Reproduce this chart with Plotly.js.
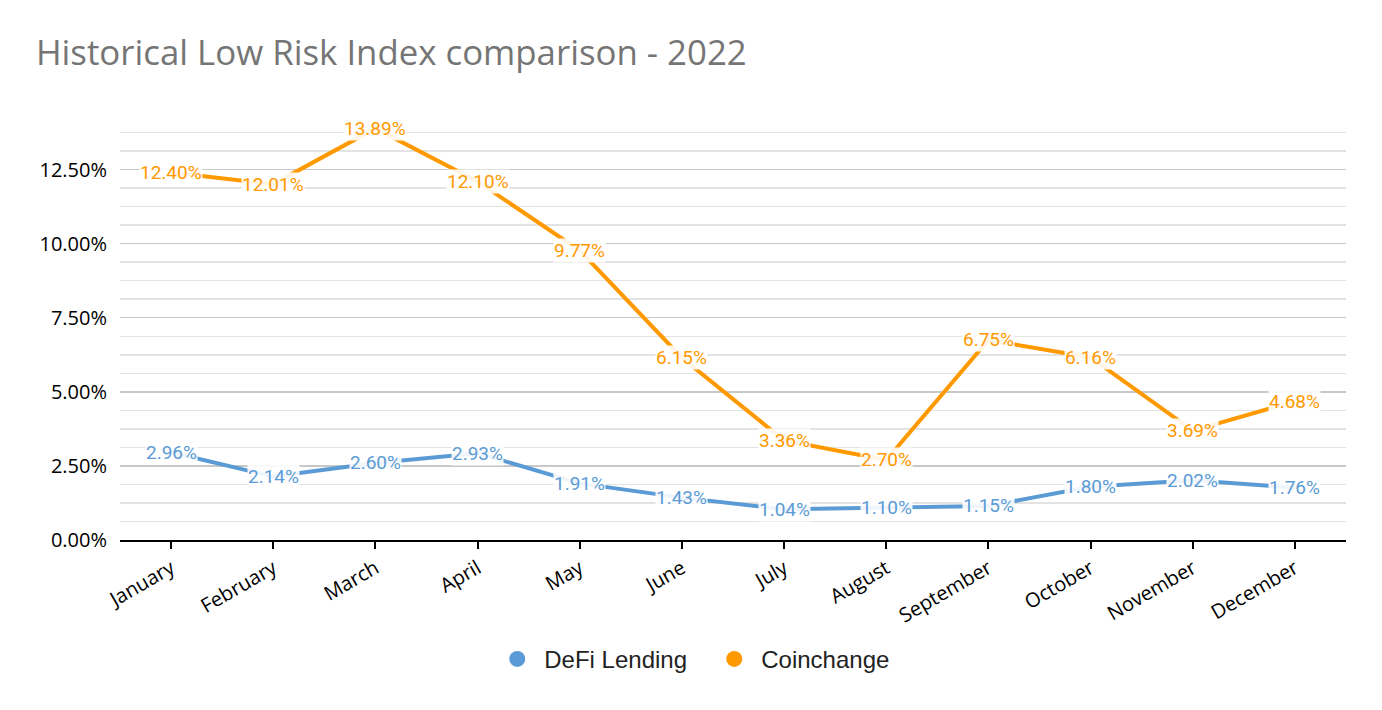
<!DOCTYPE html>
<html>
<head>
<meta charset="utf-8">
<script src="https://cdn.plot.ly/plotly-3.0.1.min.js"></script>
<style>html,body{margin:0;padding:0;background:#fff;}#chart{width:1382px;height:710px;}</style>
</head>
<body>
<div id="chart"></div>
<script>
const months = ["January","February","March","April","May","June","July","August","September","October","November","December"];
const defiLending = [2.96, 2.14, 2.60, 2.93, 1.91, 1.43, 1.04, 1.10, 1.15, 1.80, 2.02, 1.76];
const coinchange = [12.40, 12.01, 13.89, 12.10, 9.77, 6.15, 3.36, 2.70, 6.75, 6.16, 3.69, 4.68];
const seriesNames = ["DeFi Lending", "Coinchange"];
const blue = "#5B9BD5", orange = "#FF9900";

const traces = [
  {x: months, y: defiLending, mode: "lines", line: {color: blue, width: 4}, showlegend: false, hoverinfo: "skip"},
  {x: months, y: coinchange, mode: "lines", line: {color: orange, width: 4}, showlegend: false, hoverinfo: "skip"},
  {x: [months[0]], y: [null], mode: "markers", name: seriesNames[0], marker: {color: blue, size: 24}},
  {x: [months[0]], y: [null], mode: "markers", name: seriesNames[1], marker: {color: orange, size: 24}}
];

const annotations = [];
function addLabels(vals, color) {
  vals.forEach((v, i) => {
    annotations.push({
      x: months[i], y: v, xref: "x", yref: "y",
      text: v.toFixed(2) + "%", showarrow: false,
      font: {family: "Roboto, Arial, sans-serif", size: 19, color: color},
      bgcolor: "rgba(255,255,255,0.9)", borderpad: 0
    });
  });
}
addLabels(defiLending, blue);
addLabels(coinchange, orange);

const layout = {
  width: 1382, height: 710,
  paper_bgcolor: "#fff", plot_bgcolor: "#fff",
  margin: {l: 120, r: 36, t: 114, b: 170},
  title: {text: "Historical Low Risk Index comparison - 2022", x: 0.026, xanchor: "left", y: 0.925, yanchor: "middle",
          font: {family: "Open Sans, sans-serif", size: 34.8, color: "#757575"}},
  xaxis: {
    type: "category", range: [-0.5, 11.5], tickangle: -30,
    showline: true, linecolor: "#000", linewidth: 2,
    ticks: "outside", ticklen: 7, tickwidth: 2, tickcolor: "#000",
    showgrid: false, zeroline: false,
    tickfont: {family: "Open Sans, sans-serif", size: 20, color: "#000"}
  },
  yaxis: {
    range: [0, 14.375], dtick: 2.5, tick0: 0, tickformat: ".2f", ticksuffix: "%",
    showgrid: true, gridcolor: "#c8c8c8", gridwidth: 1.5, zeroline: false,
    minor: {dtick: 0.625, showgrid: true, gridcolor: "#e3e3e3", gridwidth: 1.5},
    tickfont: {family: "Open Sans, sans-serif", size: 20, color: "#000"},
    ticks: "", ticklabelstandoff: 12
  },
  legend: {orientation: "h", x: 0.479, xanchor: "center", y: -0.28, yanchor: "middle",
           entrywidth: 158, entrywidthmode: "pixels",
           font: {family: "Liberation Sans, Arial, sans-serif", size: 24, color: "#222"}, itemwidth: 44},
  annotations: annotations,
  showlegend: true
};

Plotly.newPlot("chart", traces, layout, {displayModeBar: false, staticPlot: true});
</script>
</body>
</html>
